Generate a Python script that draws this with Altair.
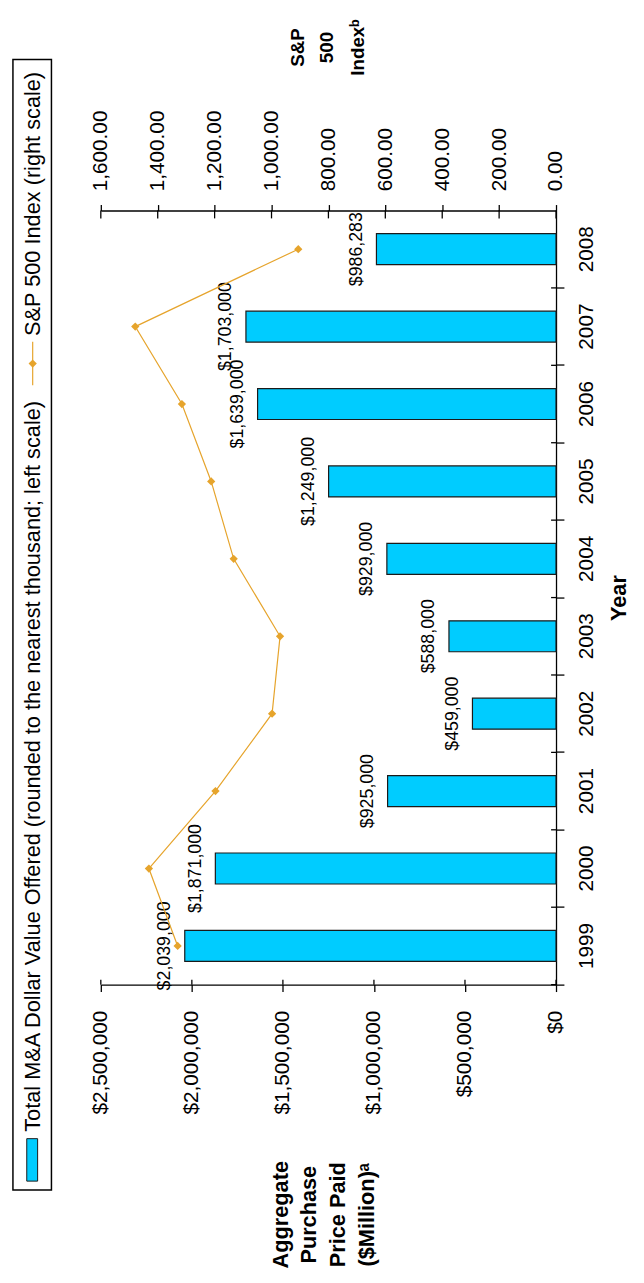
import altair as alt
import pandas as pd

# ---- data ----
years = ["1999", "2000", "2001", "2002", "2003", "2004", "2005", "2006", "2007", "2008"]
ma_value = [2039000, 1871000, 925000, 459000, 588000, 929000, 1249000, 1639000, 1703000, 986283]
sp500 = [1330, 1431, 1197, 998, 970, 1133, 1212, 1315, 1479, 906]

dollar_ticks = [0, 500000, 1000000, 1500000, 2000000, 2500000]
sp_ticks = [0, 200, 400, 600, 800, 1000, 1200, 1400, 1600]

left_title = ["Aggregate", "Purchase", "Price Paid", "($Million)\u1d43"]
right_title = ["S&P", "500", "Index\u1d47"]
x_title = "Year"
legend_bar = "Total M&A Dollar Value Offered (rounded to the nearest thousand; left scale)"
legend_line = "S&P 500 Index (right scale)"

df = pd.DataFrame({"year": years, "value": ma_value, "sp": sp500})
dtick_df = pd.DataFrame({"value": dollar_ticks})
stick_df = pd.DataFrame({"sp": sp_ticks})
one = pd.DataFrame({"k": [0]})

FONT = "Liberation Sans"
BAR_FILL = "#00CCFF"
LINE_COL = "#E6A42C"

years_desc = list(reversed(years))

y_enc = alt.Y(
    "year:O",
    sort=years_desc,
    scale=alt.Scale(paddingInner=0.6, paddingOuter=0.3),
    axis=alt.Axis(
        orient="right", title=x_title, labelAngle=270, labelAlign="center",
        labelBaseline="top", labelFontSize=21, labelPadding=12, tickSize=8,
        bandPosition=1.75, titleAngle=270, titleFontSize=22, titleFontWeight="bold",
        titleX=63, titleY=392, titleAlign="center", titleBaseline="middle",
    ),
)

x_dollar = alt.X(
    "value:Q",
    scale=alt.Scale(domain=[0, 2500000], reverse=True, nice=False),
    axis=alt.Axis(
        orient="bottom", values=dollar_ticks, format="$,.0f", labelAngle=270,
        labelAlign="right", labelBaseline="middle", labelFontSize=21, labelPadding=19,
        tickSize=7, title=None,
    ),
)

x_sp = alt.X(
    "sp:Q",
    scale=alt.Scale(domain=[0, 1600], reverse=True, nice=False),
    axis=alt.Axis(
        orient="top", values=sp_ticks, format=",.2f", labelAngle=270,
        labelAlign="left", labelBaseline="middle", labelFontSize=21, labelPadding=14,
        tickSize=6, title=None,
    ),
)

base = alt.Chart(df)

bars = base.mark_bar(fill=BAR_FILL, stroke="#1a1a1a", strokeWidth=1.2).encode(x=x_dollar, y=y_enc)
labels = base.mark_text(angle=270, align="center", baseline="middle", dy=-20,
                        fontSize=18, font=FONT, color="black").encode(
    x=x_dollar, y=y_enc, text=alt.Text("value:Q", format="$,.0f"))
# inner halves of the crossing tick marks
d_inner = alt.Chart(dtick_df).mark_rule(color="black", strokeWidth=1.3).encode(
    x=x_dollar, y=alt.value(779), y2=alt.value(784))
y_inner = base.mark_rule(color="black", strokeWidth=1.3, yOffset=39.2).encode(
    y=y_enc, x=alt.value(456), x2=alt.value(461))
bar_layer = alt.layer(bars, labels, d_inner, y_inner)

line = base.mark_line(color=LINE_COL, strokeWidth=1.2).encode(x=x_sp, y=y_enc)
pts = base.mark_point(shape="diamond", filled=True, size=70, color=LINE_COL, opacity=1).encode(x=x_sp, y=y_enc)
s_inner = alt.Chart(stick_df).mark_rule(color="black", strokeWidth=1.3).encode(
    x=x_sp, y=alt.value(0), y2=alt.value(8))
line_layer = alt.layer(line, pts, s_inner)

# ---- rotated axis titles (one text mark per line) ----
ann = alt.Chart(one)
title_marks = []
for txt, xpos in zip(left_title, [183, 211, 240, 270]):
    title_marks.append(ann.mark_text(angle=270, align="center", baseline="middle", fontSize=22,
                                     font=FONT, fontWeight="bold", color="black", text=txt).encode(
        x=alt.value(xpos), y=alt.value(1017)))
for txt, xpos in zip(right_title, [200, 229, 261]):
    title_marks.append(ann.mark_text(angle=270, align="center", baseline="middle", fontSize=19,
                                     font=FONT, fontWeight="bold", color="black", text=txt).encode(
        x=alt.value(xpos), y=alt.value(-165)))

# ---- legend (drawn manually, rotated) ----
box = ann.mark_rect(fill="white", fillOpacity=0, stroke="black", strokeWidth=1.5).encode(
    x=alt.value(-89), x2=alt.value(-50), y=alt.value(-153), y2=alt.value(992))
swatch = ann.mark_rect(fill=BAR_FILL, stroke="#1a1a1a", strokeWidth=1).encode(
    x=alt.value(-75), x2=alt.value(-64), y=alt.value(940), y2=alt.value(983))
t1 = ann.mark_text(angle=270, align="left", baseline="middle", fontSize=22, font=FONT,
                   color="black", text=legend_bar).encode(x=alt.value(-69), y=alt.value(933))
lrule = ann.mark_rule(color=LINE_COL, strokeWidth=1.2).encode(
    x=alt.value(-69), y=alt.value(133), y2=alt.value(177))
lpt = ann.mark_point(shape="diamond", filled=True, size=70, color=LINE_COL, opacity=1).encode(
    x=alt.value(-69), y=alt.value(155))
t2 = ann.mark_text(angle=270, align="left", baseline="middle", fontSize=22, font=FONT,
                   color="black", text=legend_line).encode(x=alt.value(-69), y=alt.value(127))
extras = alt.layer(*title_marks, box, swatch, t1, lrule, lpt, t2)

chart = alt.layer(bar_layer, line_layer, extras).resolve_scale(x="independent").properties(
    width=461, height=784,
    autosize=alt.AutoSizeParams(type="none"),
    padding={"left": 94, "top": 197, "right": 81, "bottom": 286},
).configure_axis(
    grid=False, domainColor="black", tickColor="black", labelColor="black",
    titleColor="black", domainWidth=1.3, tickWidth=1.3, labelFont=FONT, titleFont=FONT,
).configure_view(stroke=None)

chart.save("out.html", embed_options={"renderer": "svg", "actions": False})
